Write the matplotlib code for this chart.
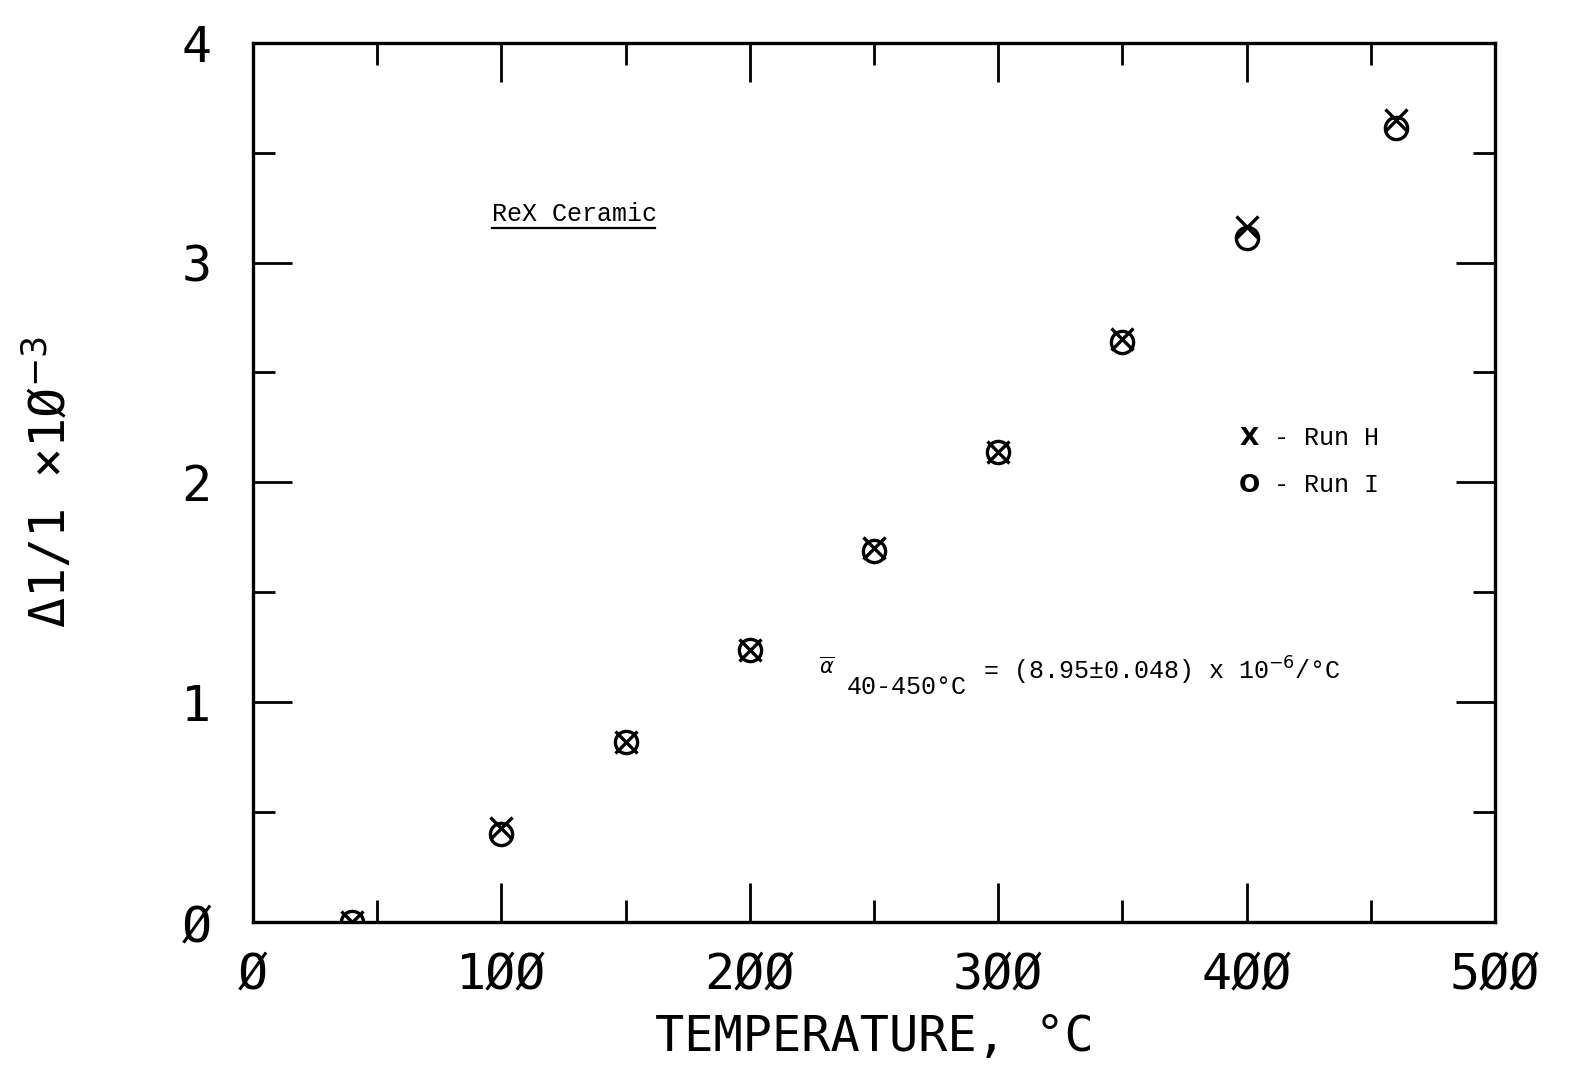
import numpy as np
import matplotlib
matplotlib.use('Agg')
import matplotlib.pyplot as plt

# (temperature in C, dl/l in units of 1e-3)
temp = [40, 100, 150, 200, 250, 300, 350, 400, 460]
run_h = [0.0, 0.43, 0.82, 1.24, 1.70, 2.14, 2.65, 3.16, 3.65]
run_i = [0.0, 0.40, 0.82, 1.24, 1.69, 2.14, 2.64, 3.11, 3.61]

xticks = [0, 100, 200, 300, 400, 500]
xtick_labels = ['Ø', '1ØØ', '2ØØ', '3ØØ', '4ØØ', '5ØØ']
yticks = [0, 1, 2, 3, 4]
ytick_labels = ['Ø', '1', '2', '3', '4']

mono = 'DejaVu Sans Mono'
type_font = 'Liberation Mono'

fig = plt.figure(figsize=(15.72, 10.65), dpi=100)
ax = fig.add_axes([0.161, 0.134, 0.790, 0.826])

ax.plot(temp, run_i, linestyle='none', marker='o', markersize=16,
        markerfacecolor='none', markeredgecolor='black', markeredgewidth=2.4)
ax.plot(temp, run_h, linestyle='none', marker='x', markersize=16,
        color='black', markeredgewidth=2.4)

ax.set_xlim(0, 500)
ax.set_ylim(0, 4)
ax.set_xticks(xticks)
ax.set_xticklabels(xtick_labels, fontsize=36, family=mono)
ax.set_yticks(yticks)
ax.set_yticklabels(ytick_labels, fontsize=36, family=mono)
ax.set_xticks(np.arange(50, 500, 100), minor=True)
ax.set_yticks(np.arange(0.5, 4, 1), minor=True)
ax.tick_params(which='major', direction='in', length=28, width=2,
               top=True, right=True)
ax.tick_params(which='minor', direction='in', length=16, width=2,
               top=True, right=True)
ax.tick_params(axis='x', which='major', pad=20)
ax.tick_params(axis='y', which='major', pad=30)
for s in ax.spines.values():
    s.set_linewidth(2.4)

ax.set_xlabel('TEMPERATURE, °C', fontsize=35, family=mono)
ax.xaxis.set_label_coords(0.5, -0.130)
ax.xaxis.label.set_va('center')
ax.set_ylabel('Δ1/1 ×1Ø$^{-3}$', fontsize=36, family=mono, labelpad=76)

# sample label, underlined
ax.text(96, 3.22, 'ReX Ceramic', fontsize=18, family=type_font, va='center')
ax.plot([96, 162], [3.155, 3.155], color='black', linewidth=1.6)

# legend written as text
ax.text(397, 2.20, 'X', fontsize=18, fontweight='bold', family='DejaVu Sans', va='center')
ax.text(405, 2.20, ' - Run H', fontsize=18, family=type_font, va='center')
ax.text(397, 1.99, 'O', fontsize=18, fontweight='bold', family='DejaVu Sans', va='center')
ax.text(405, 1.99, ' - Run I', fontsize=18, family=type_font, va='center')

# mean expansion coefficient
ax.text(228, 1.16, r'$\overline{\alpha}$', fontsize=15, va='center')
ax.text(239, 1.07, '40-450°C', fontsize=18, family=type_font, va='center')
ax.text(294, 1.145, '= (8.95±0.048) x 10$^{-6}$/°C', fontsize=18,
        family=type_font, va='center')

plt.savefig('out.png', dpi=100)
